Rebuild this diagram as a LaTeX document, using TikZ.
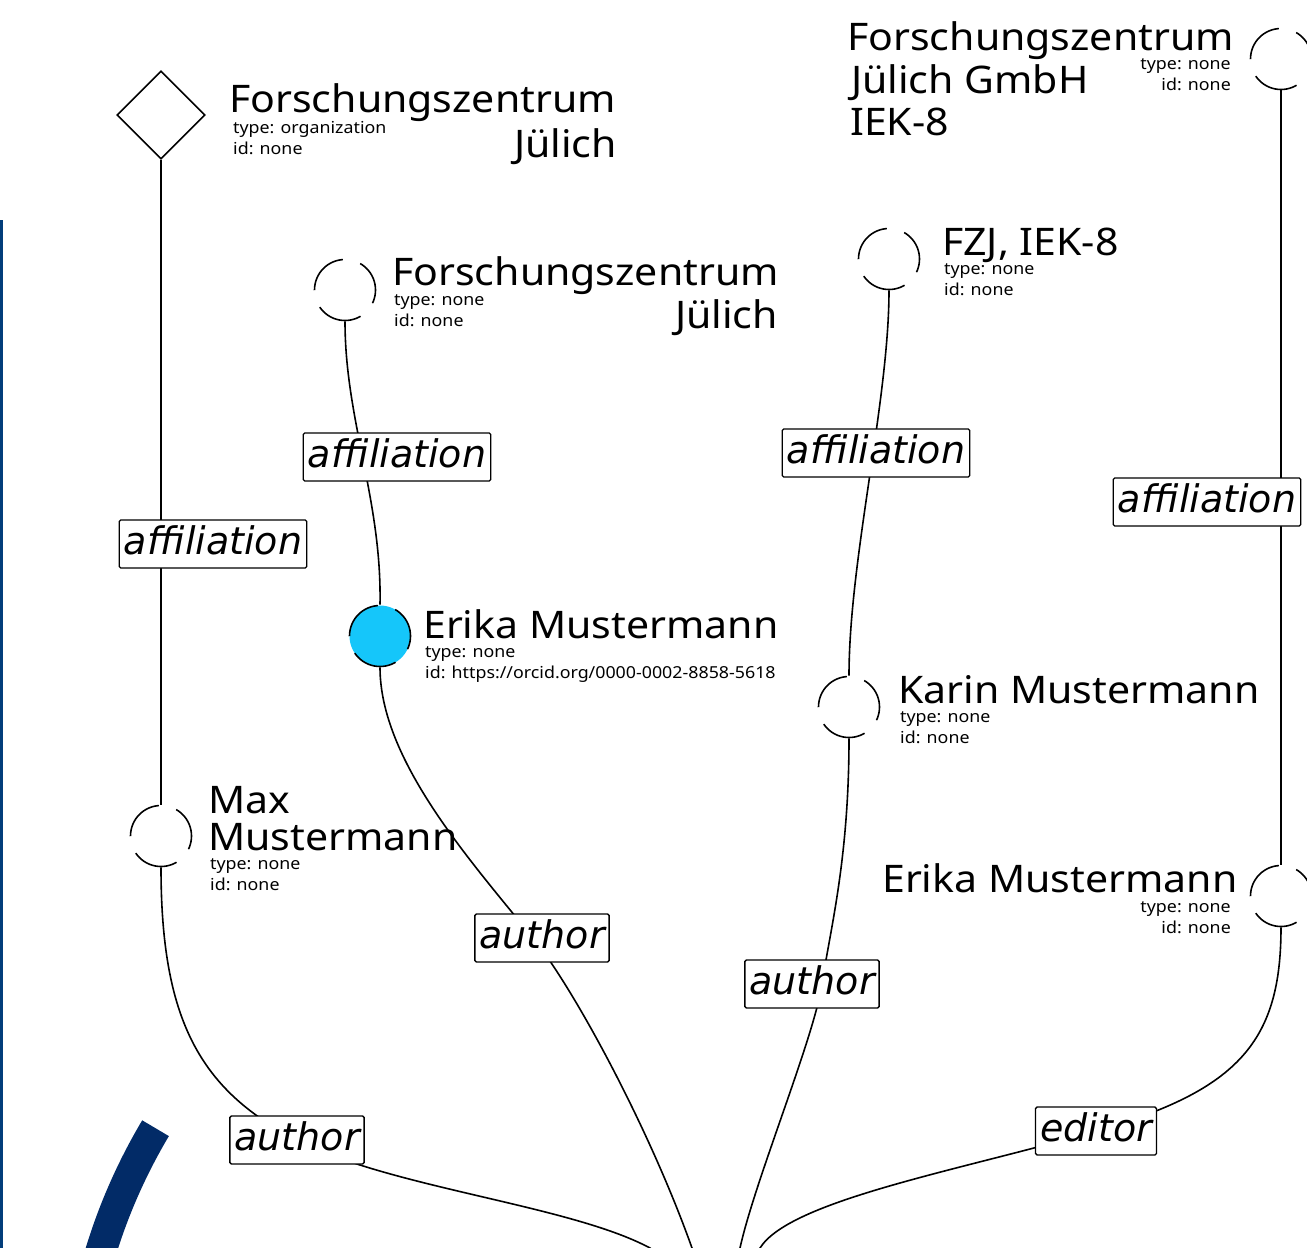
\documentclass[tikz,border=0pt]{standalone}
\usepackage{fontspec}
\setmainfont[FakeStretch=1.08]{Noto Sans}
\newfontfamily\labfont{DejaVu Sans}
\usetikzlibrary{shapes.geometric}
\definecolor{fzjnavy}{RGB}{2,43,103}
\definecolor{fzjline}{RGB}{2,61,122}
\definecolor{erikafill}{RGB}{21,198,250}
\tikzset{
  ent/.style={circle, draw, line width=1.6pt, minimum size=61pt, inner sep=0pt, dash pattern=on 46pt off 18pt, dash phase=14pt},
  orgshape/.style={diamond, draw, line width=1.6pt, minimum width=88pt, minimum height=88pt, inner sep=0pt, aspect=1},
  edge/.style={line width=1.6pt},
  rel/.style={draw, line width=1.3pt, fill=white, rounded corners=1.5pt, inner xsep=4.5pt, inner ysep=4.5pt,
    text height=30pt, text depth=9pt, font=\labfont\itshape\fontsize{38}{40}\selectfont},
  ttl/.style={inner sep=0pt, font=\fontsize{38}{40}\selectfont},
  sub/.style={inner sep=0pt, font=\fontsize{16.5}{19}\selectfont}
}
\begin{document}
\begin{tikzpicture}[x=1pt,y=-1pt]
\useasboundingbox (0,0) rectangle (1307,1248);
\clip (0,0) rectangle (1307,1248);

% left blue rule
\fill[fzjline] (0,220) rectangle (2.5,1248);
% navy arc
\begin{scope}
\clip (0,1248) -- (0,1036) -- (221,1167) -- (221,1248) -- cycle;
\draw[fzjnavy, line width=31pt] (643,1418) circle[radius=567pt];
\end{scope}

% entities
\node[orgshape] (org) at (161,115) {};
\node[ent] (fzjA) at (345,290) {};
\node[ent] (fzjB) at (889,259) {};
\node[ent] (fzjC) at (1281,59) {};
\node[ent, fill=erikafill] (erika) at (380,636) {};
\node[ent] (karin) at (849,707) {};
\node[ent] (max) at (161,836) {};
\node[ent] (erika2) at (1281,896) {};
\coordinate (root) at (720,1300);

% texts
\node[ttl, anchor=base west] (t1a) at (229,112) {Forschungszentrum};
\node[ttl, anchor=base east] (t1b) at (617,157) {Jülich};
\node[sub, anchor=base west] (s1a) at (233,133) {type: organization};
\node[sub, anchor=base west] (s1b) at (233,154) {id: none};

\node[ttl, anchor=base west] (t2a) at (392,285) {Forschungszentrum};
\node[ttl, anchor=base east] (t2b) at (778,328) {Jülich};
\node[sub, anchor=base west] (s2a) at (394,305) {type: none};
\node[sub, anchor=base west] (s2b) at (394,326) {id: none};

\node[ttl, anchor=base west] (t3a) at (942,255) {FZJ, IEK-8};
\node[sub, anchor=base west] (s3a) at (944,274) {type: none};
\node[sub, anchor=base west] (s3b) at (944,295) {id: none};

\node[ttl, anchor=base west] (t4a) at (847,50) {Forschungszentrum};
\node[ttl, anchor=base west] (t4b) at (851,93) {Jülich GmbH};
\node[ttl, anchor=base west] (t4c) at (850,135) {IEK-8};
\node[sub, anchor=base east] (s4a) at (1231,69) {type: none};
\node[sub, anchor=base east] (s4b) at (1231,90) {id: none};

\node[ttl, anchor=base west] (t5a) at (423,638) {Erika Mustermann};
\node[sub, anchor=base west] (s5a) at (425,657) {type: none};
\node[sub, anchor=base west] (s5b) at (425,678) {id: https://orcid.org/0000-0002-8858-5618};

\node[ttl, anchor=base west] (t6a) at (898,703) {Karin Mustermann};
\node[sub, anchor=base west] (s6a) at (900,722) {type: none};
\node[sub, anchor=base west] (s6b) at (900,743) {id: none};

\node[ttl, anchor=base west] (t7a) at (208,813) {Max};
\node[ttl, anchor=base west] (t7b) at (208,850) {Mustermann};
\node[sub, anchor=base west] (s7a) at (210,869) {type: none};
\node[sub, anchor=base west] (s7b) at (210,890) {id: none};

\node[ttl, anchor=base west] (t8a) at (882,892) {Erika Mustermann};
\node[sub, anchor=base east] (s8a) at (1231,912) {type: none};
\node[sub, anchor=base east] (s8b) at (1231,933) {id: none};

% edges
\draw[edge] (org.south) -- (max.north);
\draw[edge] (fzjA.south) .. controls (345,420) and (382,500) .. (erika.north);
\draw[edge] (fzjB.south) .. controls (889,400) and (849,560) .. (karin.north);
\draw[edge] (fzjC.south) -- (erika2.north);
\draw[edge] (max.south) .. controls (161,1020) and (200,1090) .. (297,1140)
  .. controls (390,1188) and (570,1205) .. (650,1248) -- (root);
\draw[edge] (erika.south) .. controls (380,760) and (470,860) .. (533,938)
  .. controls (575,990) and (650,1130) .. (692,1248) -- (root);
\draw[edge] (karin.south) .. controls (849,860) and (830,930) .. (822,984)
  .. controls (814,1038) and (755,1180) .. (740,1248) -- (root);
\draw[edge] (erika2.south) .. controls (1281,1040) and (1240,1090) .. (1096,1131)
  .. controls (962,1170) and (790,1200) .. (760,1248) -- (root);

% relation labels
\node[rel] (l1) at (213,544) {affiliation};
\node[rel] (l2) at (397,457) {affiliation};
\node[rel] (l3) at (876,453) {affiliation};
\node[rel] (l4) at (1207,502) {affiliation};
\node[rel] (l5) at (297,1140) {author};
\node[rel] (l6) at (542,938) {author};
\node[rel] (l7) at (812,984) {author};
\node[rel] (l8) at (1096,1131) {editor};
\end{tikzpicture}
\end{document}
